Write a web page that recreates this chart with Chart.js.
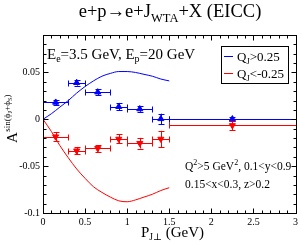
<!DOCTYPE html>
<html><head><meta charset="utf-8">
<script src="https://cdn.jsdelivr.net/npm/chart.js@4"></script>
<style>html,body{margin:0;padding:0;background:#fff}#c{display:block}</style>
</head><body>
<canvas id="c" width="301" height="243"></canvas>
<script>
// ---- data ----
const binLo   = [0.0, 0.3, 0.5, 0.8, 1.0, 1.3, 1.5];
const binHi   = [0.3, 0.5, 0.8, 1.0, 1.3, 1.5, 3.0];
const xCenter = [0.15, 0.4, 0.65, 0.9, 1.15, 1.4, 2.25];
const blueY   = [0.018, 0.039, 0.029, 0.0135, 0.011, 0.0005, 0.0003];
const blueErr = [0.003, 0.003, 0.003, 0.004, 0.003, 0.0055, 0.0025];
const redY    = [-0.0185, -0.0335, -0.031, -0.021, -0.0255, -0.021, -0.0065];
const redErr  = [0.005, 0.004, 0.0035, 0.0048, 0.0057, 0.0087, 0.005];
const curveX    = [0, 0.1, 0.2, 0.3, 0.4, 0.5, 0.6, 0.7, 0.8, 0.9, 1.0, 1.1, 1.2, 1.3, 1.4, 1.5];
const blueCurve = [0, 0.006, 0.013, 0.020, 0.028, 0.035, 0.041, 0.046, 0.049, 0.051, 0.051, 0.050, 0.048, 0.046, 0.043, 0.041];
const redCurve  = [0, -0.013, -0.028, -0.041, -0.053, -0.063, -0.072, -0.078, -0.083, -0.087, -0.088, -0.086, -0.083, -0.080, -0.076, -0.073];
const xTicks = [0, 0.5, 1, 1.5, 2, 2.5, 3];
const yTicks = [-0.1, -0.05, 0, 0.05];
const legendLabels = [">0.25", "<-0.25"];

const BLUE = 'rgb(0,0,255)', RED = 'rgb(255,0,0)';
const FONT = "'Liberation Serif', 'DejaVu Serif', serif";

function pts(xs, ys) { return xs.map((x, i) => ({x: x, y: ys[i]})); }

function rich(ctx, x, y, parts, measureOnly) {
  let cx = x;
  for (const p of parts) {
    ctx.font = p.s + 'px ' + FONT;
    if (!measureOnly) ctx.fillText(p.t, cx, y + (p.dy || 0));
    cx += ctx.measureText(p.t).width;
  }
  return cx - x;
}

const deco = {
  id: 'deco',
  beforeDatasetsDraw(chart) {
    const ctx = chart.ctx, xs = chart.scales.x, ys = chart.scales.y;
    ctx.save();
    ctx.lineWidth = 1;
    const sets = [[blueY, blueErr, BLUE], [redY, redErr, RED]];
    for (const [vals, errs, col] of sets) {
      ctx.strokeStyle = col;
      ctx.beginPath();
      for (let i = 0; i < vals.length; i++) {
        const py = Math.round(ys.getPixelForValue(vals[i])) + 0.5;
        const x0 = Math.round(xs.getPixelForValue(binLo[i])) + 0.5;
        const x1 = Math.round(xs.getPixelForValue(binHi[i])) + 0.5;
        const px = Math.round(xs.getPixelForValue(xCenter[i])) + 0.5;
        const y0 = ys.getPixelForValue(vals[i] - errs[i]);
        const y1 = ys.getPixelForValue(vals[i] + errs[i]);
        ctx.moveTo(x0, py); ctx.lineTo(x1, py);
        ctx.moveTo(x0, py - 3); ctx.lineTo(x0, py + 3);
        ctx.moveTo(x1, py - 3); ctx.lineTo(x1, py + 3);
        ctx.moveTo(px, y0); ctx.lineTo(px, y1);
        ctx.moveTo(px - 3, Math.round(y0) + 0.5); ctx.lineTo(px + 3, Math.round(y0) + 0.5);
        ctx.moveTo(px - 3, Math.round(y1) + 0.5); ctx.lineTo(px + 3, Math.round(y1) + 0.5);
      }
      ctx.stroke();
    }
    ctx.restore();
  },
  afterDraw(chart) {
    const ctx = chart.ctx, a = chart.chartArea, xs = chart.scales.x, ys = chart.scales.y;
    ctx.save();
    ctx.strokeStyle = '#000';
    ctx.lineWidth = 1;
    const L = Math.round(a.left) + 0.5, R = Math.round(a.right) + 0.5;
    const T = Math.round(a.top) + 0.5, B = Math.round(a.bottom) + 0.5;
    ctx.strokeRect(L, T, R - L, B - T);
    ctx.beginPath();
    // x ticks (major 0.5, minor 0.1)
    for (let k = 0; k <= 30; k++) {
      const v = k / 10;
      const len = (k % 5 === 0) ? 5 : 3;
      const p = Math.round(xs.getPixelForValue(v)) + 0.5;
      ctx.moveTo(p, B); ctx.lineTo(p, B - len);
      ctx.moveTo(p, T); ctx.lineTo(p, T + len);
    }
    // y ticks (major 0.05, minor 0.01)
    for (let k = -10; k <= 9; k++) {
      const v = k / 100;
      const len = (k % 5 === 0) ? 5 : 3;
      const p = Math.round(ys.getPixelForValue(v)) + 0.5;
      ctx.moveTo(L, p); ctx.lineTo(L + len, p);
      ctx.moveTo(R, p); ctx.lineTo(R - len, p);
    }
    ctx.stroke();

    ctx.fillStyle = '#000';
    ctx.textBaseline = 'alphabetic';
    ctx.textAlign = 'left';
    // title
    const tParts = [{t: 'e+p\u2192e+J', s: 18.5}, {t: 'WTA', s: 12.5, dy: 5}, {t: '+X (EICC)', s: 18.5}];
    const tw = rich(ctx, 0, 0, tParts, true);
    rich(ctx, 170 - tw / 2, 17, tParts);
    // beam energies
    rich(ctx, 47, 59, [{t: 'E', s: 15}, {t: 'e', s: 10, dy: 3}, {t: '=3.5 GeV, E', s: 15}, {t: 'p', s: 10, dy: 3}, {t: '=20 GeV', s: 15}]);
    // kinematics
    rich(ctx, 185, 170, [{t: 'Q', s: 11.5}, {t: '2', s: 8, dy: -5}, {t: '>5 GeV', s: 11.5}, {t: '2', s: 8, dy: -5}, {t: ', 0.1<y<0.9', s: 11.5}]);
    rich(ctx, 185, 188, [{t: '0.15<x<0.3, z>0.2', s: 11.5}]);
    // legend
    ctx.strokeStyle = '#000';
    ctx.strokeRect(221.5, 46.5, 67, 37);
    const legCols = [BLUE, RED];
    const legY = [56, 73];
    for (let i = 0; i < 2; i++) {
      ctx.strokeStyle = legCols[i];
      ctx.beginPath();
      ctx.moveTo(224, legY[i] + 0.5); ctx.lineTo(233, legY[i] + 0.5);
      ctx.stroke();
      rich(ctx, 237, legY[i] + 4.5, [{t: 'Q', s: 13}, {t: 'J', s: 8.5, dy: 3}, {t: legendLabels[i], s: 13}]);
    }
    // x axis title
    rich(ctx, 141, 237, [{t: 'P', s: 15}, {t: 'J\u22A5', s: 9.5, dy: 3}, {t: ' (GeV)', s: 15}]);
    // y axis title
    ctx.save();
    ctx.translate(17, 143);
    ctx.rotate(-Math.PI / 2);
    const wA = rich(ctx, 0, 0, [{t: 'A', s: 15}]);
    rich(ctx, wA + 0.5, -7, [{t: 'sin(\u03D5', s: 9}, {t: 'J', s: 6.5, dy: 2}, {t: '+\u03D5', s: 9}, {t: 'S', s: 6.5, dy: 2}, {t: ')', s: 9}]);
    ctx.restore();
    ctx.restore();
  }
};

new Chart(document.getElementById('c'), {
  type: 'scatter',
  data: {
    datasets: [
      {type: 'line', data: pts(curveX, blueCurve), borderColor: BLUE, borderWidth: 1, pointRadius: 0, cubicInterpolationMode: 'monotone', fill: false},
      {type: 'line', data: pts(curveX, redCurve), borderColor: RED, borderWidth: 1, pointRadius: 0, cubicInterpolationMode: 'monotone', fill: false},
      {data: pts(xCenter, blueY), pointStyle: 'triangle', radius: 3.5, backgroundColor: BLUE, borderColor: BLUE, borderWidth: 1},
      {data: pts(xCenter, redY), pointStyle: 'triangle', rotation: 180, radius: 3.5, backgroundColor: RED, borderColor: RED, borderWidth: 1}
    ]
  },
  options: {
    responsive: false,
    animation: false,
    devicePixelRatio: 1,
    layout: {padding: {left: 0, top: 35, right: 4, bottom: 0}},
    plugins: {legend: {display: false}, tooltip: {enabled: false}, title: {display: false}},
    scales: {
      x: {
        type: 'linear', min: 0, max: 3,
        afterBuildTicks: s => { s.ticks = xTicks.map(v => ({value: v})); },
        afterFit: s => { s.height = 30; },
        grid: {display: false, drawTicks: false},
        border: {display: false},
        ticks: {font: {family: FONT, size: 10}, color: '#000', padding: 3, maxRotation: 0, autoSkip: false, callback: v => String(v)}
      },
      y: {
        type: 'linear', min: -0.1, max: 0.09,
        afterBuildTicks: s => { s.ticks = yTicks.map(v => ({value: v})); },
        afterFit: s => { s.width = 43; },
        grid: {display: false, drawTicks: false},
        border: {display: false},
        ticks: {font: {family: FONT, size: 10}, color: '#000', padding: 3, autoSkip: false, callback: v => String(v)}
      }
    }
  },
  plugins: [deco]
});
</script>
</body></html>
